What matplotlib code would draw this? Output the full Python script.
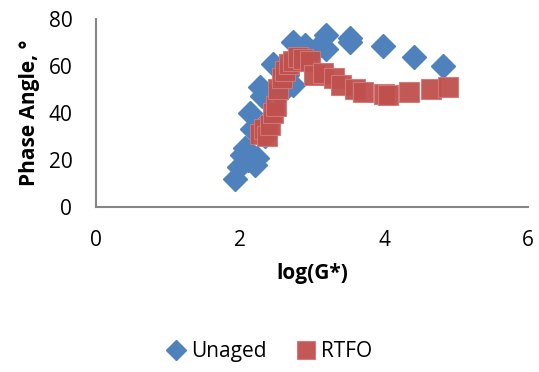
import matplotlib.pyplot as plt

# valeurs
unaged_x = [1.93, 1.98, 2.03, 2.07, 2.11, 2.17, 2.21, 2.24, 2.14, 2.28, 2.30, 2.35,
            2.40, 2.46, 2.55, 2.65, 2.74, 2.74, 2.90, 3.05, 3.20, 3.20, 3.53, 3.53,
            3.98, 4.41, 4.82]
unaged_y = [12, 17, 22, 25, 20, 33, 18, 21, 40, 51, 47, 30,
            37, 61, 48, 56, 52, 70, 69, 67, 73, 67, 72, 70,
            68.5, 64, 60]

rtfo_x = [2.28, 2.33, 2.38, 2.42, 2.46, 2.50, 2.53, 2.58, 2.63, 2.68, 2.74, 2.80,
          2.88, 2.97, 3.02, 3.15, 3.30, 3.40, 3.60, 3.70, 4.00, 4.05, 4.35, 4.65, 4.89]
rtfo_y = [31, 33, 30, 35, 40, 43, 50, 55, 58, 61, 62, 64,
          63, 62, 56, 57, 55, 52, 50, 49, 48, 47.5, 49, 50, 51]

plt.rcParams['font.family'] = ['Open Sans', 'DejaVu Sans']

fig = plt.figure(figsize=(5.39, 3.72), dpi=100)
ax = fig.add_axes([0.178, 0.444, 0.802, 0.505])

ax.plot(unaged_x, unaged_y, 'D', color='#4F81BD', markersize=12.5,
        markeredgecolor='#4F81BD', label='Unaged', linestyle='none')
ax.plot(rtfo_x, rtfo_y, 's', color='#C0504D', markersize=14.5,
        markeredgecolor='#D07A78', markeredgewidth=0.8, alpha=0.95,
        label='RTFO', linestyle='none')

ax.set_xlim(0, 6)
ax.set_ylim(0, 80)
ax.set_xticks([0, 2, 4, 6])
ax.set_yticks([0, 20, 40, 60, 80])
ax.tick_params(length=0, labelsize=15, pad=17)
for s in ['top', 'right']:
    ax.spines[s].set_visible(False)
for s in ['left', 'bottom']:
    ax.spines[s].set_color('#868686')
    ax.spines[s].set_linewidth(1.5)

ax.set_xlabel('log(G*)', fontsize=15, fontweight='bold', labelpad=8)
ax.set_ylabel('Phase Angle, °', fontsize=15, fontweight='bold', labelpad=6)

fig.legend(loc='center', bbox_to_anchor=(0.5, 0.054), ncol=2, frameon=False,
           fontsize=15, handlelength=0.9, handletextpad=0.3, columnspacing=1.4,
           markerscale=0.85)

plt.savefig('out.png', dpi=100)
